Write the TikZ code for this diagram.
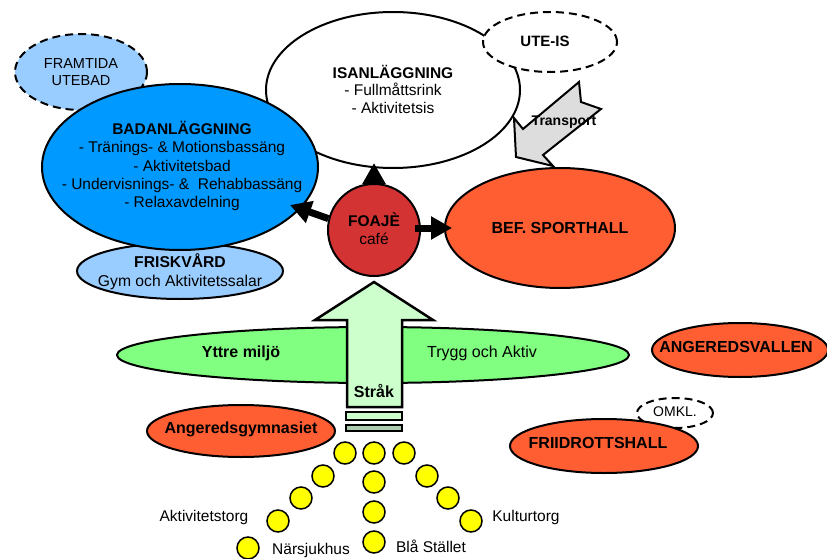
\documentclass[tikz,border=0pt]{standalone}
\usepackage{fontspec}
\setmainfont{Liberation Sans}
\usetikzlibrary{shapes.geometric,arrows.meta}
\definecolor{badblue}{HTML}{0099FF}
\definecolor{lblue}{HTML}{99CCFF}
\definecolor{foajered}{HTML}{D43333}
\definecolor{orng}{HTML}{FF5E33}
\definecolor{grn}{HTML}{80FF80}
\definecolor{lgrn}{HTML}{CCFFCC}
\definecolor{tgray}{HTML}{DDDDDD}
\definecolor{yel}{HTML}{FFFF00}
\begin{document}
\begin{tikzpicture}[x=1pt,y=-1pt,
  ell/.style={ellipse, draw, line width=2pt, inner sep=0pt},
  dsh/.style={dash pattern=on 8pt off 5pt},
  txt/.style={inner sep=0pt, align=center, font=\fontsize{15.5}{18.3}\selectfont},
  btxt/.style={txt, font=\bfseries\fontsize{16}{19}\selectfont},
  yc/.style={circle, draw, line width=1.5pt, fill=yel, minimum size=22pt, inner sep=0pt},
  blk/.style={line width=7pt, -{Triangle[length=21pt,width=22pt]}}]
\useasboundingbox (0,0) rectangle (827,559);

% background ellipses
\node[ell, fill=lblue, dsh, minimum width=132pt, minimum height=76pt] (framtida) at (81,72) {};
\node[txt, font=\fontsize{14.5}{17}\selectfont] (framtidatxt) at (81,72) {FRAMTIDA\\UTEBAD};
\node[ell, fill=white, minimum width=254pt, minimum height=156pt] (isan) at (393,90) {};
\node[txt, font=\fontsize{15.5}{17.5}\selectfont] (isantxt) at (393,89)
  {\textbf{ISANLÄGGNING}\\- Fullmåttsrink\\- Aktivitetsis};
\node[ell, fill=white, dsh, minimum width=134pt, minimum height=60pt] (utes) at (550,42) {};
\node[txt, font=\bfseries\fontsize{15}{18}\selectfont] (utestxt) at (545,41) {UTE-IS};

% transport arrow
\draw[line width=2pt, fill=tgray, line join=miter]
  (516,157) -- (514,118) -- (523,129) -- (579,82) -- (581,102) -- (601,109)
  -- (543,155) -- (553,166) -- cycle;
\node[txt, font=\bfseries\fontsize{14}{16}\selectfont] (transp) at (564,122) {Transport};

\node[ell, fill=lblue, minimum width=206pt, minimum height=56pt] (frisk) at (180,271) {};
\node[txt, font=\fontsize{15.7}{19}\selectfont] (frisktxt) at (180,272)
  {\textbf{FRISKVÅRD}\\Gym och Aktivitetssalar};
\node[ell, fill=badblue, minimum width=276pt, minimum height=166pt] (bad) at (180,167) {};
\node[txt] (badtxt) at (182,166)
  {\textbf{BADANLÄGGNING}\\- Tränings- \& Motionsbassäng\\- Aktivitetsbad\\- Undervisnings- \&\ \ Rehabbassäng\\- Relaxavdelning};

\node[ell, fill=orng, minimum width=230pt, minimum height=120pt] (sport) at (560,228) {};
\node[btxt] (sporttxt) at (560,228) {BEF. SPORTHALL};

\node[circle, draw, line width=2pt, fill=foajered, minimum size=92pt, inner sep=0pt] (foaje) at (374,230) {};
\node[txt] (foajetxt) at (374,229) {\textbf{FOAJÈ}\\café};

% black arrows
\coordinate (tipL) at (290,205);
\draw[blk] (foaje.166) -- (tipL);
\draw[blk] (foaje.north) -- (foaje.north |- isan.south) [shorten >=-6pt];
\draw[blk] ([yshift=2pt]foaje.east) -- ([yshift=2pt]foaje.east -| sport.west) [shorten >=-8pt, shorten <=-6pt];

% outdoor environment
\node[ell, fill=grn, minimum width=512pt, minimum height=56pt] (yttre) at (373,355) {};
\node[btxt] (yttretxt) at (241,353) {Yttre miljö};
\node[txt, font=\fontsize{16}{19}\selectfont] (trygg) at (482,353) {Trygg och Aktiv};

% Stråk arrow
\draw[line width=2.5pt, fill=lgrn, line join=miter]
  (347,407) -- (347,320) -- (315,320) -- (374,282) -- (433,320) -- (402,320) -- (402,407) -- cycle;
\node[btxt] (strak) at (374,391) {Stråk};
\draw[line width=2pt, fill=lgrn] (346,412) rectangle (402,420);
\draw[line width=2pt, fill=lgrn!60!gray] (346,425) rectangle (402,431);

\node[ell, fill=orng, minimum width=188pt, minimum height=52pt] (angym) at (241,431) {};
\node[btxt] (angymtxt) at (241,429) {Angeredsgymnasiet};
\node[ell, fill=orng, minimum width=176pt, minimum height=54pt] (angval) at (740,350) {};
\node[btxt] (angvaltxt) at (736,347) {ANGEREDSVALLEN};
\node[ell, fill=white, dsh, minimum width=76pt, minimum height=30pt] (omkl) at (675,413) {};
\node[txt, font=\fontsize{14}{16}\selectfont] (omkltxt) at (675,412) {OMKL.};
\node[ell, fill=orng, minimum width=188pt, minimum height=54pt] (friid) at (604,446) {};
\node[btxt] (friidtxt) at (598,443) {FRIIDROTTSHALL};

% yellow circles
\node[yc] (y1) at (345,453) {};
\node[yc] (y2) at (374,453) {};
\node[yc] (y3) at (404,453) {};
\node[yc] (l1) at (323,476) {};
\node[yc] (l2) at (301,498) {};
\node[yc] (l3) at (278,521) {};
\node[yc] (c1) at (374,482) {};
\node[yc] (c2) at (374,512) {};
\node[yc] (c3) at (374,542) {};
\node[yc] (r1) at (427,476) {};
\node[yc] (r2) at (448,498) {};
\node[yc] (r3) at (471,521) {};
\node[yc] (ns) at (248,548) {};

\node[txt] (akt) at (204,517) {Aktivitetstorg};
\node[txt] (nars) at (311,550) {Närsjukhus};
\node[txt] (bla) at (431,546) {Blå Stället};
\node[txt] (kult) at (526,517) {Kulturtorg};
\end{tikzpicture}
\end{document}
